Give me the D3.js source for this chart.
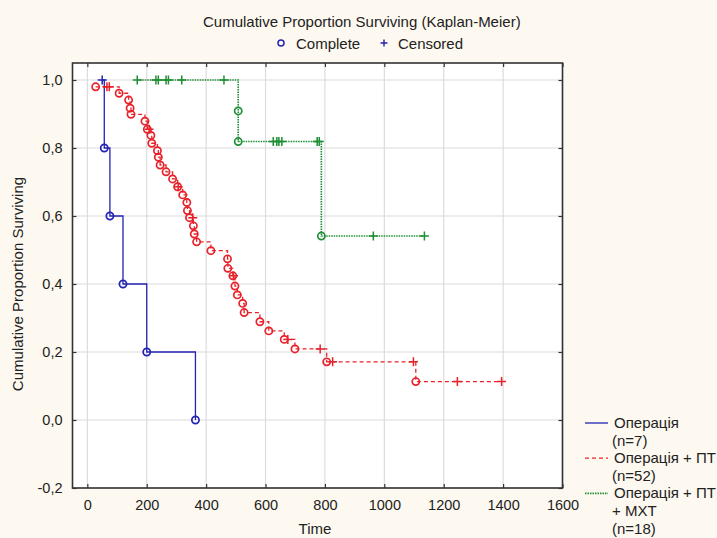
<!DOCTYPE html>
<html>
<head>
  <meta charset="utf-8">
  <title>Kaplan-Meier</title>
  <script src="https://d3js.org/d3.v7.min.js"></script>
  <style>
    body { margin: 0; background: #fdf9f0; }
    svg text { font-family: "Liberation Sans", Arial, sans-serif; fill: #222; }
  </style>
</head>
<body>
  <svg id="chart"></svg>

  <script>
    // tick values
    var xTicks = [0, 200, 400, 600, 800, 1000, 1200, 1400, 1600];
    var yTicks = [-0.2, 0.0, 0.2, 0.4, 0.6, 0.8, 1.0];

    // group names / sizes (legend)
    var groupNames = [["Операція"], ["Операція + ПТ"], ["Операція + ПТ", "+ МХТ"]];
    var groupN = [7, 52, 18];
    var groupColors = ["#2323b4", "#e8222a", "#1f8f35"];

    // Операція
    var g1Time = [50, 57, 76, 120, 200, 364];
    var g1Surv = [1.0, 0.8, 0.6, 0.4, 0.2, 0.0];
    var g1Cens = [1, 0, 0, 0, 0, 0];

    // Операція + ПТ
    var g2Time = [28, 66, 74, 107, 139, 144, 147, 194, 202, 208, 214, 217, 236, 239, 245, 265, 287, 304, 306, 321, 335, 337, 344, 355, 357, 360, 368, 416, 472, 473, 490, 492, 497, 505, 523, 528, 581, 611, 663, 675, 699, 784, 806, 826, 1098, 1106, 1246, 1395];
    var g2Surv = [0.98, 0.98, 0.98, 0.961, 0.941, 0.917, 0.899, 0.879, 0.855, 0.855, 0.837, 0.814, 0.792, 0.773, 0.75, 0.73, 0.709, 0.686, 0.686, 0.662, 0.64, 0.616, 0.595, 0.595, 0.571, 0.547, 0.524, 0.498, 0.474, 0.446, 0.424, 0.424, 0.394, 0.368, 0.343, 0.316, 0.289, 0.262, 0.237, 0.237, 0.209, 0.209, 0.171, 0.171, 0.171, 0.113, 0.113, 0.113];
    var g2Cens = [0, 1, 1, 0, 0, 0, 0, 0, 0, 1, 0, 0, 0, 0, 0, 0, 0, 0, 1, 0, 0, 0, 0, 1, 0, 0, 0, 0, 0, 0, 0, 1, 0, 0, 0, 0, 0, 0, 0, 1, 0, 1, 0, 1, 1, 0, 1, 1];

    // Операція + ПТ + МХТ
    var g3Time = [168, 231, 239, 265, 273, 318, 460, 508, 508, 626, 638, 645, 655, 774, 781, 788, 963, 1135];
    var g3Surv = [1, 1, 1, 1, 1, 1, 1, 0.909, 0.819, 0.819, 0.819, 0.819, 0.819, 0.819, 0.819, 0.541, 0.541, 0.541];
    var g3Cens = [1, 1, 1, 1, 1, 1, 1, 0, 0, 1, 1, 1, 1, 1, 1, 0, 1, 1];

    function zip(t, s, c) {
      return t.map(function(d, i) { return { t: d, s: s[i], c: c[i] }; });
    }
    var groups = [zip(g1Time, g1Surv, g1Cens), zip(g2Time, g2Surv, g2Cens), zip(g3Time, g3Surv, g3Cens)];
    var dashes = [null, "4,3", "1.5,1"];

    var W = 717, H = 538;
    var pLeft = 72.5, pRight = 562.5, pTop = 63, pBottom = 488;
    var fs = 15;

    var svg = d3.select("#chart").attr("width", W).attr("height", H);
    svg.append("rect").attr("width", W).attr("height", H).attr("fill", "#fdf9f0");

    var x = d3.scaleLinear().domain([-50, 1600]).range([pLeft, pRight]);
    var y = d3.scaleLinear().domain([-0.2, 1.05]).range([pBottom, pTop]);

    // plot background
    svg.append("rect")
      .attr("x", pLeft).attr("y", pTop)
      .attr("width", pRight - pLeft).attr("height", pBottom - pTop)
      .attr("fill", "#fff");

    // grid
    svg.append("g").selectAll("line").data(xTicks).join("line")
      .attr("x1", function(d) { return x(d); }).attr("x2", function(d) { return x(d); })
      .attr("y1", pTop).attr("y2", pBottom)
      .attr("stroke", "#dcdcdc").attr("stroke-width", 1.2);
    svg.append("g").selectAll("line").data(yTicks).join("line")
      .attr("x1", pLeft).attr("x2", pRight)
      .attr("y1", function(d) { return y(d); }).attr("y2", function(d) { return y(d); })
      .attr("stroke", "#dcdcdc").attr("stroke-width", 1.2);

    var fmtY = function(d) { return d3.format(".1f")(d).replace(".", ",").replace("−", "-"); };
    var fmtX = d3.format("d");

    // axes with inward ticks
    svg.append("g").attr("transform", "translate(0," + pBottom + ")")
      .call(d3.axisBottom(x).tickValues(xTicks).tickFormat(fmtX).tickSizeInner(-4).tickSizeOuter(0).tickPadding(12));
    svg.append("g").attr("transform", "translate(" + pLeft + ",0)")
      .call(d3.axisLeft(y).tickValues(yTicks).tickFormat(fmtY).tickSizeInner(-4).tickSizeOuter(0).tickPadding(10));
    svg.append("g").attr("transform", "translate(0," + pTop + ")")
      .call(d3.axisTop(x).tickValues(xTicks).tickFormat("").tickSizeInner(-4).tickSizeOuter(0));
    svg.append("g").attr("transform", "translate(" + pRight + ",0)")
      .call(d3.axisRight(y).tickValues(yTicks).tickFormat("").tickSizeInner(-4).tickSizeOuter(0));

    svg.selectAll(".domain").remove();
    svg.selectAll(".tick line").attr("stroke", "#333").attr("stroke-width", 1.2);
    svg.selectAll(".tick text").attr("font-size", 14.5).attr("fill", "#222")
      .style("font-family", "'Liberation Sans', Arial, sans-serif");

    // frame
    svg.append("rect")
      .attr("x", pLeft).attr("y", pTop)
      .attr("width", pRight - pLeft).attr("height", pBottom - pTop)
      .attr("fill", "none").attr("stroke", "#333").attr("stroke-width", 1.6);

    // survival curves
    var line = d3.line()
      .x(function(d) { return x(d.t); })
      .y(function(d) { return y(d.s); })
      .curve(d3.curveStepAfter);

    groups.forEach(function(data, i) {
      svg.append("path")
        .datum(data)
        .attr("fill", "none")
        .attr("stroke", groupColors[i])
        .attr("stroke-width", i == 2 ? 1.6 : 1.3)
        .attr("stroke-dasharray", dashes[i])
        .attr("d", line);

      svg.append("g").selectAll("circle").data(data.filter(function(d) { return !d.c; })).join("circle")
        .attr("cx", function(d) { return x(d.t); })
        .attr("cy", function(d) { return y(d.s); })
        .attr("r", 3.6)
        .attr("fill", "none")
        .attr("stroke", groupColors[i])
        .attr("stroke-width", 1.7);

      svg.append("g").selectAll("path").data(data.filter(function(d) { return d.c; })).join("path")
        .attr("transform", function(d) { return "translate(" + x(d.t) + "," + y(d.s) + ")"; })
        .attr("d", "M-4.5,0H4.5M0,-4.5V4.5")
        .attr("stroke", groupColors[i])
        .attr("stroke-width", 1.5);
    });

    // title & marker legend
    svg.append("text").attr("x", 203).attr("y", 27)
      .attr("font-size", fs).text("Cumulative Proportion Surviving (Kaplan-Meier)");
    svg.append("circle").attr("cx", 281).attr("cy", 43).attr("r", 3)
      .attr("fill", "none").attr("stroke", "#2323b4").attr("stroke-width", 1.5);
    svg.append("text").attr("x", 296).attr("y", 48.5).attr("font-size", fs).text("Complete");
    svg.append("path").attr("transform", "translate(384,43)").attr("d", "M-3.5,0H3.5M0,-3.5V3.5")
      .attr("stroke", "#2323b4").attr("stroke-width", 1.4);
    svg.append("text").attr("x", 398).attr("y", 48.5).attr("font-size", fs).text("Censored");

    // axis titles
    svg.append("text").attr("x", 315).attr("y", 534).attr("text-anchor", "middle")
      .attr("font-size", fs).text("Time");
    svg.append("text").attr("transform", "translate(23,284) rotate(-90)").attr("text-anchor", "middle")
      .attr("font-size", fs).text("Cumulative Proportion Surviving");

    // group legend
    var rowY = 423, rowH = 17.6;
    var leg = svg.append("g");
    groupNames.forEach(function(lines, i) {
      leg.append("line")
        .attr("x1", 585).attr("x2", 608).attr("y1", rowY).attr("y2", rowY)
        .attr("stroke", groupColors[i]).attr("stroke-width", i == 2 ? 1.6 : 1.3)
        .attr("stroke-dasharray", dashes[i]);
      lines.concat(["(n=" + groupN[i] + ")"]).forEach(function(t, j) {
        leg.append("text").attr("x", j == 0 ? 614 : 612).attr("y", rowY + 5)
          .attr("font-size", fs).text(t);
        rowY += rowH;
      });
    });
  </script>
</body>
</html>
